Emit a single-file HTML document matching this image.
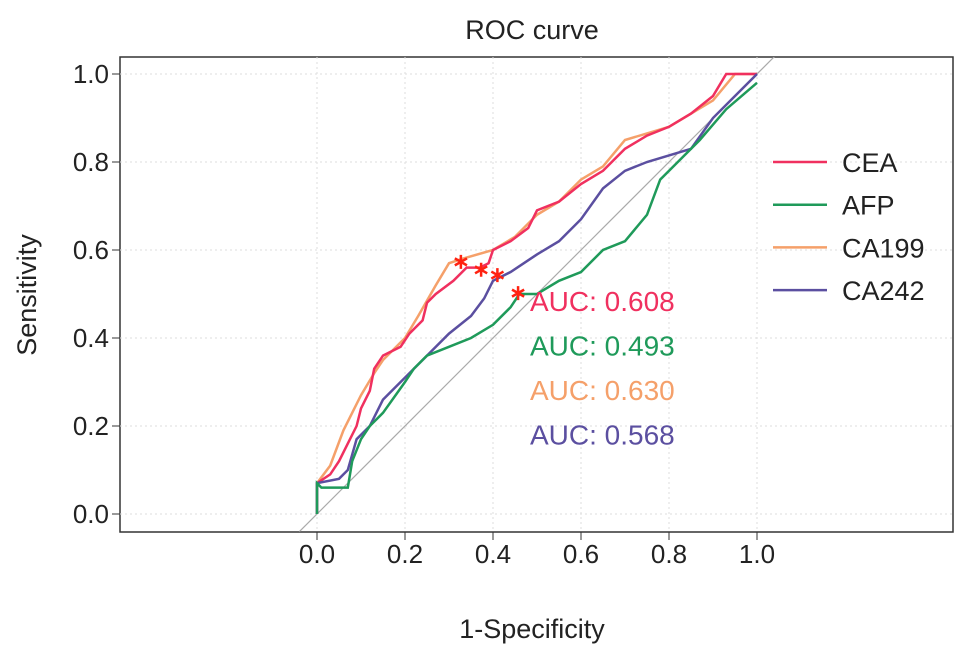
<!DOCTYPE html>
<html><head><meta charset="utf-8"><style>
body{margin:0;background:#fff;}
svg text{font-family:"Liberation Sans",sans-serif;}
</style></head><body>
<svg id="c" width="969" height="654" xmlns="http://www.w3.org/2000/svg">
<defs><clipPath id="pc"><rect x="120" y="57" width="833" height="475"/></clipPath></defs>
<text x="532" y="39" font-size="27" text-anchor="middle" fill="#222">ROC curve</text>
<rect x="120" y="57" width="833" height="475" fill="none" stroke="#333" stroke-width="1.5"/>
<g id="grid"></g><g id="axes"></g><g id="series" clip-path="url(#pc)"></g><g id="marks"></g>
<text x="532" y="638" font-size="27" text-anchor="middle" fill="#222">1-Specificity</text>
<text transform="translate(36,295) rotate(-90)" font-size="27" text-anchor="middle" fill="#222">Sensitivity</text>
<g id="legend"></g>
</svg>
<script>
const ticks=[0,0.2,0.4,0.6,0.8,1.0];
const tickLabels=["0.0","0.2","0.4","0.6","0.8","1.0"];
const names=["CEA","AFP","CA199","CA242"];
const colors=["#f0305f","#1f9a5a","#f5a06a","#5b4fa0"];
const aucs=["0.608","0.493","0.630","0.568"];
const ceaX=[0,0,0.03,0.05,0.07,0.09,0.1,0.12,0.13,0.15,0.19,0.21,0.24,0.25,0.27,0.31,0.34,0.37,0.39,0.4,0.44,0.48,0.5,0.55,0.6,0.65,0.7,0.75,0.8,0.85,0.9,0.93,1];
const ceaY=[0,0.07,0.09,0.12,0.16,0.2,0.24,0.28,0.33,0.36,0.38,0.41,0.44,0.48,0.5,0.53,0.56,0.56,0.57,0.6,0.62,0.65,0.69,0.71,0.75,0.78,0.83,0.86,0.88,0.91,0.95,1,1];
const afpX=[0,0,0.01,0.07,0.08,0.1,0.12,0.15,0.2,0.22,0.25,0.3,0.35,0.4,0.44,0.46,0.5,0.55,0.6,0.65,0.7,0.75,0.78,0.82,0.87,0.93,1];
const afpY=[0,0.07,0.06,0.06,0.12,0.17,0.2,0.23,0.3,0.33,0.36,0.38,0.4,0.43,0.47,0.5,0.5,0.53,0.55,0.6,0.62,0.68,0.76,0.8,0.85,0.92,0.98];
const ca199X=[0,0,0.03,0.06,0.08,0.1,0.13,0.15,0.2,0.23,0.27,0.3,0.33,0.4,0.45,0.5,0.55,0.6,0.65,0.7,0.8,0.9,0.95,1];
const ca199Y=[0,0.07,0.11,0.19,0.23,0.27,0.32,0.35,0.4,0.45,0.52,0.57,0.58,0.6,0.63,0.68,0.71,0.76,0.79,0.85,0.88,0.94,1,1];
const ca242X=[0,0,0.05,0.07,0.09,0.12,0.15,0.2,0.25,0.3,0.35,0.38,0.4,0.44,0.5,0.55,0.6,0.65,0.7,0.75,0.85,0.9,0.95,1];
const ca242Y=[0,0.07,0.08,0.1,0.17,0.2,0.26,0.31,0.36,0.41,0.45,0.49,0.53,0.55,0.59,0.62,0.67,0.74,0.78,0.8,0.83,0.9,0.95,1];
const cutX=[0.373,0.457,0.327,0.41];
const cutY=[0.555,0.502,0.573,0.543];
const NS="http://www.w3.org/2000/svg";
const sx=v=>317+v*440, sy=v=>514-v*440;
function mk(t,a,p){const e=document.createElementNS(NS,t);for(const k in a)e.setAttribute(k,a[k]);p.appendChild(e);return e;}
const G=document.getElementById('grid'),A=document.getElementById('axes'),S=document.getElementById('series'),M=document.getElementById('marks'),L=document.getElementById('legend');
ticks.forEach((t,i)=>{
 let g=mk('line',{x1:sx(t),x2:sx(t),y1:57,y2:532,stroke:'#ddd','stroke-dasharray':'2,3'},G);
 
 g=mk('line',{x1:120,x2:953,y1:sy(t),y2:sy(t),stroke:'#ddd','stroke-dasharray':'2,3'},G);
 
 let l=mk('line',{x1:sx(t),x2:sx(t),y1:532,y2:540,stroke:'#333'},A);
 
 let tx=mk('text',{x:sx(t),y:563,'font-size':26,'text-anchor':'middle',fill:'#222'},A);tx.textContent=tickLabels[i];
 
 l=mk('line',{x1:112,x2:120,y1:sy(t),y2:sy(t),stroke:'#333'},A);
 
 tx=mk('text',{x:109,y:sy(t)+9,'font-size':26,'text-anchor':'end',fill:'#222'},A);tx.textContent=tickLabels[i];
 
});
let d=mk('line',{x1:sx(-0.04),y1:sy(-0.04),x2:sx(1.1),y2:sy(1.1),stroke:'#aaa','stroke-width':1.2},S);

const XS=[ceaX,afpX,ca199X,ca242X],YS=[ceaY,afpY,ca199Y,ca242Y];
[2,0,3,1].forEach(i=>{
 const xs=XS[i],ys=YS[i];let pts=[];
 for(let k=0;k<xs.length;k++){pts.push(sx(xs[k])+','+sy(ys[k]));}
 const p=mk('polyline',{points:pts.join(' '),fill:'none',stroke:colors[i],'stroke-width':2.5,'stroke-linejoin':'miter'},S);
 
});
names.forEach((n,i)=>{
 const cx=sx(cutX[i]),cy=sy(cutY[i]),r=7;let dd='';
 for(let k=0;k<3;k++){const a=Math.PI/2+k*Math.PI/3;dd+=`M${cx+r*Math.cos(a)},${cy-r*Math.sin(a)}L${cx-r*Math.cos(a)},${cy+r*Math.sin(a)}`;}
 const s=mk('path',{d:dd,stroke:'#f21','stroke-width':2.5,fill:'none'},M);
 
 const a=mk('text',{x:530,y:311+i*44.5,'font-size':28,fill:colors[i]},M);a.textContent='AUC: '+aucs[i];
 
 const ly=162+i*42.7;
 const ll=mk('line',{x1:773,x2:827,y1:ly,y2:ly,stroke:colors[i],'stroke-width':2.5},L);
 
 const lt=mk('text',{x:842,y:ly+10,'font-size':27,fill:'#222'},L);lt.textContent=n;
 
});
</script>
</body></html>
